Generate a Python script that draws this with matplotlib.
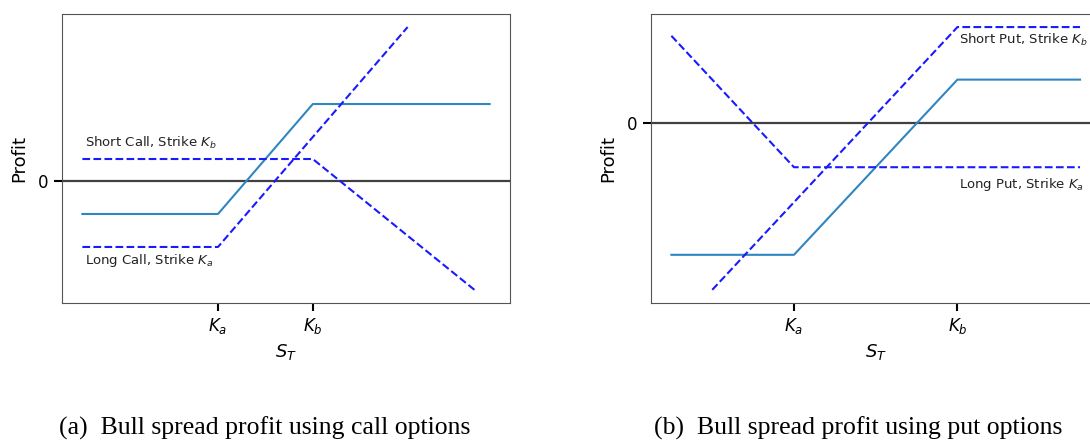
import matplotlib.pyplot as plt

# strikes
Ka, Kb = 40, 60

# (a) bull spread with calls: (S_T, profit) breakpoints of each payoff
call_spread_S = [11.4, Ka, Kb, 97.3]
call_spread_P = [-6, -6, 14, 14]
long_call_S = [11.4, Ka, 80]
long_call_P = [-12, -12, 28]
short_call_S = [11.4, Kb, 94.1]
short_call_P = [4, 4, -19.8]

# (b) bull spread with puts
put_spread_S = [25, Ka, Kb, 75]
put_spread_P = [-15, -15, 5, 5]
long_put_S = [25, Ka, 75]
long_put_P = [10, -5, -5]
short_put_S = [30, Kb, 75]
short_put_P = [-19, 11, 11]

captions = ["(a)  Bull spread profit using call options",
            "(b)  Bull spread profit using put options"]

spread_color = "#2f86c0"
leg_color = "#1a1aff"

fig = plt.figure(figsize=(10.9, 4.42), dpi=100)
ax1 = fig.add_axes([0.0569, 0.3145, 0.411, 0.654])
ax2 = fig.add_axes([0.5972, 0.3145, 0.4124, 0.654])


def style(ax):
    ax.axhline(0, color="black", alpha=0.75, lw=1.6, zorder=1)
    ax.set_xticks([Ka, Kb])
    ax.set_xticklabels(["$K_a$", "$K_b$"])
    ax.set_yticks([0])
    ax.tick_params(axis="both", labelsize=12, length=6, width=1.5)
    ax.set_xlabel("$S_T$", fontsize=13)
    ax.set_ylabel("Profit", fontsize=13, labelpad=7)
    for sp in ax.spines.values():
        sp.set_color("#555555")


ax1.plot(call_spread_S, call_spread_P, color=spread_color, lw=1.5)
ax1.plot(long_call_S, long_call_P, "--", color=leg_color, lw=1.5)
ax1.plot(short_call_S, short_call_P, "--", color=leg_color, lw=1.5)
ax1.text(12, 6.9, "Short Call, Strike $K_b$", fontsize=9.5, va="center", color="#222222")
ax1.text(12, -14.4, "Long Call, Strike $K_a$", fontsize=9.5, va="center", color="#222222")
style(ax1)

ax2.plot(put_spread_S, put_spread_P, color=spread_color, lw=1.5)
ax2.plot(long_put_S, long_put_P, "--", color=leg_color, lw=1.5)
ax2.plot(short_put_S, short_put_P, "--", color=leg_color, lw=1.5)
ax2.text(60.2, 9.5, "Short Put, Strike $K_b$", fontsize=9.5, va="center", color="#222222")
ax2.text(60.2, -7.0, "Long Put, Strike $K_a$", fontsize=9.5, va="center", color="#222222")
style(ax2)

fig.text(265 / 1090, 1 - 428 / 442, captions[0], fontsize=18.5,
         family="Liberation Serif", ha="center", va="center")
fig.text(858 / 1090, 1 - 428 / 442, captions[1], fontsize=18.5,
         family="Liberation Serif", ha="center", va="center")

fig.savefig("out.png", dpi=100)
